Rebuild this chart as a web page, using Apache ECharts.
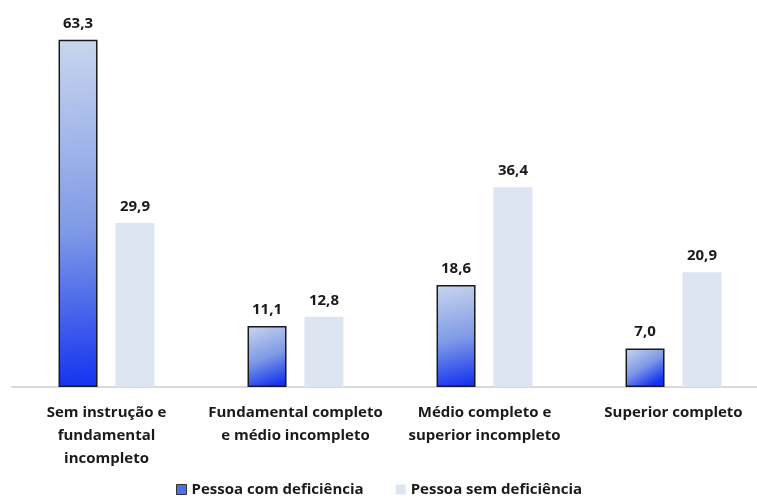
<!DOCTYPE html>
<html><head><meta charset="utf-8">
<script src="https://cdn.jsdelivr.net/npm/echarts@6/dist/echarts.min.js"></script>
<style>html,body{margin:0;padding:0;background:#fff}#c{width:757px;height:500px}</style>
</head><body><div id="c"></div>
<script>
const categories = ['Sem instrução e\nfundamental\nincompleto', 'Fundamental completo\ne médio incompleto', 'Médio completo e\nsuperior incompleto', 'Superior completo'];
const seriesNames = ['Pessoa com deficiência', 'Pessoa sem deficiência'];
const comDeficiencia = [63.3, 11.1, 18.6, 7.0];
const semDeficiencia = [29.9, 12.8, 36.4, 20.9];

const font = '"Open Sans", "DejaVu Sans", sans-serif';
const grad = new echarts.graphic.LinearGradient(0, 0, 0.6, 1, [
  {offset: 0, color: '#c9d6ee'},
  {offset: 0.55, color: '#7f9ae6'},
  {offset: 1, color: '#1433f0'}
]);
const fmt = p => p.value.toFixed(1).replace('.', ',');
const chart = echarts.init(document.getElementById('c'));
chart.setOption({
  animation: false,
  grid: {left: 12, right: -11, top: 3, bottom: 113, containLabel: false, outerBoundsMode: 'none'},
  xAxis: {
    type: 'category', data: categories,
    axisLine: {lineStyle: {color: '#d9d9d9', width: 2}},
    axisTick: {show: false},
    axisLabel: {color: '#1a1a1a', fontFamily: font, fontWeight: 'bold', fontSize: 15, lineHeight: 23, margin: 14, interval: 0}
  },
  yAxis: {type: 'value', min: 0, max: 70, show: false, splitLine: {show: false}},
  legend: {
    top: 477, left: 171, itemWidth: 10, itemHeight: 10, itemGap: 32,
    textStyle: {color: '#1a1a1a', fontFamily: font, fontWeight: 'bold', fontSize: 15},
    data: [
      {name: seriesNames[0], icon: 'rect', itemStyle: {color: '#4f6fe6', borderColor: '#333', borderWidth: 1}},
      {name: seriesNames[1], icon: 'rect', itemStyle: {color: '#dce5f1'}}
    ]
  },
  series: [
    {
      name: seriesNames[0], type: 'bar', data: comDeficiencia,
      barWidth: 39, barGap: '46%',
      itemStyle: {color: grad, borderColor: '#1a1a1a', borderWidth: 1.5},
      label: {show: true, position: 'top', distance: 9, formatter: fmt, color: '#1a1a1a', fontFamily: font, fontWeight: 'bold', fontSize: 15}
    },
    {
      name: seriesNames[1], type: 'bar', data: semDeficiencia,
      barWidth: 39,
      itemStyle: {color: '#dce5f1'},
      label: {show: true, position: 'top', distance: 9, formatter: fmt, color: '#1a1a1a', fontFamily: font, fontWeight: 'bold', fontSize: 15}
    }
  ]
});
</script></body></html>
